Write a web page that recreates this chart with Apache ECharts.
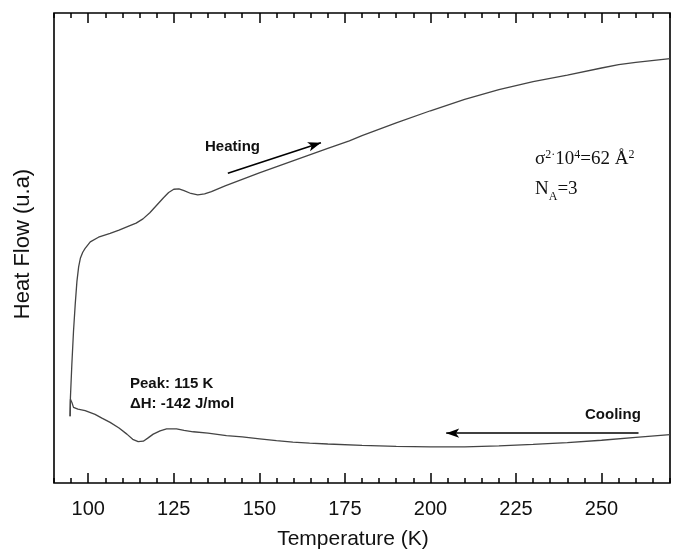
<!DOCTYPE html>
<html>
<head>
<meta charset="utf-8">
<script src="https://cdn.jsdelivr.net/npm/echarts@6/dist/echarts.min.js"></script>
<style>
  html, body { margin: 0; padding: 0; background: #fff; }
  #main { width: 674px; height: 555px; }
</style>
</head>
<body>
<div id="main"></div>
<script>
// heating run (K, arbitrary heat flow, 0 = bottom of frame, 100 = top)
var heatTemp = [94.7, 94.8, 95.2, 95.7, 96.2, 96.7, 97.2, 97.7, 98.4, 99.1, 100.6, 103, 106.4, 109, 112, 114, 116,
  118, 120, 122, 123.5, 125, 126.5, 128, 130, 132, 134, 136, 140, 150, 160, 170, 176.3, 180, 190, 200, 210, 220, 230,
  240, 250, 255, 260, 270];
var heatFlow = [14.2, 18.2, 25, 32.3, 38, 42.9, 46, 47.8, 49.1, 49.9, 51.3, 52.3, 53.1, 53.8, 54.7, 55.3, 56.2,
  57.5, 59.1, 60.7, 61.8, 62.5, 62.6, 62.2, 61.6, 61.3, 61.5, 62.0, 63.2, 66.0, 68.6, 71.2, 72.8, 73.9, 76.6, 79.2, 81.6,
  83.7, 85.4, 86.8, 88.3, 89.0, 89.5, 90.3];
// cooling run
var coolTemp = [94.7, 94.8, 95.2, 95.7, 97, 99.1, 102, 104, 106.4, 109, 111.3, 113, 114.6, 116.1, 117.5, 119, 121,
  122.9, 125.8, 128, 130.7, 135, 140.4, 145, 150.1, 155, 159.8, 164.7, 170, 180, 190, 200, 210, 220, 230, 240, 250, 260, 270];
var coolFlow = [14.2, 17.8, 17.2, 16.1, 15.7, 15.4, 14.6, 13.8, 12.9, 11.7, 10.4, 9.3, 8.8, 8.9, 9.6, 10.4, 11.1,
  11.5, 11.5, 11.2, 10.9, 10.6, 10.1, 9.8, 9.4, 9.0, 8.7, 8.5, 8.3, 8.0, 7.8, 7.7, 7.7, 7.9, 8.2, 8.6, 9.1, 9.7, 10.3];
var majorTicks = [100, 125, 150, 175, 200, 225, 250];
// arrows [start, end]
var heatArrow = [[140.8, 65.9], [168.0, 72.4]];
var coolArrow = [[260.8, 10.6], [204.6, 10.6]];

function zip(xs, ys) {
  var out = [];
  for (var i = 0; i < xs.length; i++) {
    out.push([xs[i], ys[i]]);
  }
  return out;
}

function arrowLine(pts) {
  return {
    silent: true,
    symbol: ['none', 'arrow'],
    symbolSize: [7, 13],
    label: {show: false},
    lineStyle: {color: '#000', width: 1.6, type: 'solid'},
    data: [[{coord: pts[0]}, {coord: pts[1]}]]
  };
}

var fontSans = '"Liberation Sans", Arial, sans-serif';
var fontSerif = '"Liberation Serif", "Times New Roman", serif';

function xAxisDef(pos, major, withLabel) {
  return {
    type: 'value',
    position: pos,
    min: 90,
    max: 270,
    interval: 5,
    axisLine: {show: false},
    splitLine: {show: false},
    axisTick: {
      show: true,
      inside: true,
      length: major ? 10 : 5,
      customValues: major ? majorTicks : undefined,
      lineStyle: {color: '#000', width: 1.5}
    },
    axisLabel: {
      show: withLabel,
      customValues: majorTicks,
      margin: 16,
      fontSize: 20,
      color: '#111',
      fontFamily: fontSans
    },
    name: withLabel ? 'Temperature (K)' : '',
    nameLocation: 'middle',
    nameGap: 46,
    nameTextStyle: {fontSize: 21, color: '#111', fontFamily: fontSans, padding: [0, 18, 0, 0]}
  };
}

var chart = echarts.init(document.getElementById('main'));
var option = {
  animation: false,
  backgroundColor: '#fff',
  grid: {
    left: 54,
    right: 4,
    top: 13,
    bottom: 69,
    show: true,
    borderColor: '#000',
    borderWidth: 1.6,
    backgroundColor: 'transparent'
  },
  xAxis: [
    xAxisDef('bottom', false, true),
    xAxisDef('bottom', true, false),
    xAxisDef('top', false, false),
    xAxisDef('top', true, false)
  ],
  yAxis: {
    type: 'value',
    min: 0,
    max: 100,
    axisLine: {show: false},
    axisTick: {show: false},
    axisLabel: {show: false},
    splitLine: {show: false},
    name: 'Heat Flow (u.a)',
    nameLocation: 'middle',
    nameGap: 20,
    nameTextStyle: {fontSize: 22, color: '#111', fontFamily: fontSans, padding: [0, 0, 0, 8]}
  },
  series: [
    {
      name: 'Heating',
      type: 'line',
      xAxisIndex: 0,
      data: zip(heatTemp, heatFlow),
      showSymbol: false,
      lineStyle: {color: '#444', width: 1.3},
      markLine: arrowLine(heatArrow)
    },
    {
      name: 'Cooling',
      type: 'line',
      xAxisIndex: 0,
      data: zip(coolTemp, coolFlow),
      showSymbol: false,
      lineStyle: {color: '#444', width: 1.3},
      markLine: arrowLine(coolArrow)
    }
  ],
  graphic: [
    {
      type: 'text', left: 205, top: 139,
      style: {text: 'Heating', font: 'bold 15px ' + fontSans, fill: '#111'}
    },
    {
      type: 'text', left: 585, top: 407,
      style: {text: 'Cooling', font: 'bold 15px ' + fontSans, fill: '#111'}
    },
    {
      type: 'text', left: 130, top: 376,
      style: {text: 'Peak: 115 K', font: 'bold 15px ' + fontSans, fill: '#111'}
    },
    {
      type: 'text', left: 130, top: 396,
      style: {text: 'ΔH: -142 J/mol', font: 'bold 15px ' + fontSans, fill: '#111'}
    },
    {
      type: 'text', left: 535, top: 149,
      style: {
        text: '{n|σ}{s|2·}{n|10}{s|4}{n|=62 Å}{s|2}',
        rich: {
          n: {fontSize: 19, fontFamily: fontSerif, fill: '#111', lineHeight: 20, verticalAlign: 'bottom'},
          s: {fontSize: 12, fontFamily: fontSerif, fill: '#111', lineHeight: 20, verticalAlign: 'top'}
        }
      }
    },
    {
      type: 'text', left: 535, top: 180,
      style: {
        text: '{n|N}{b|A}{n|=3}',
        rich: {
          n: {fontSize: 19, fontFamily: fontSerif, fill: '#111', lineHeight: 23, verticalAlign: 'top'},
          b: {fontSize: 12, fontFamily: fontSerif, fill: '#111', lineHeight: 23, verticalAlign: 'bottom'}
        }
      }
    }
  ]
};
chart.setOption(option);
</script>
</body>
</html>
